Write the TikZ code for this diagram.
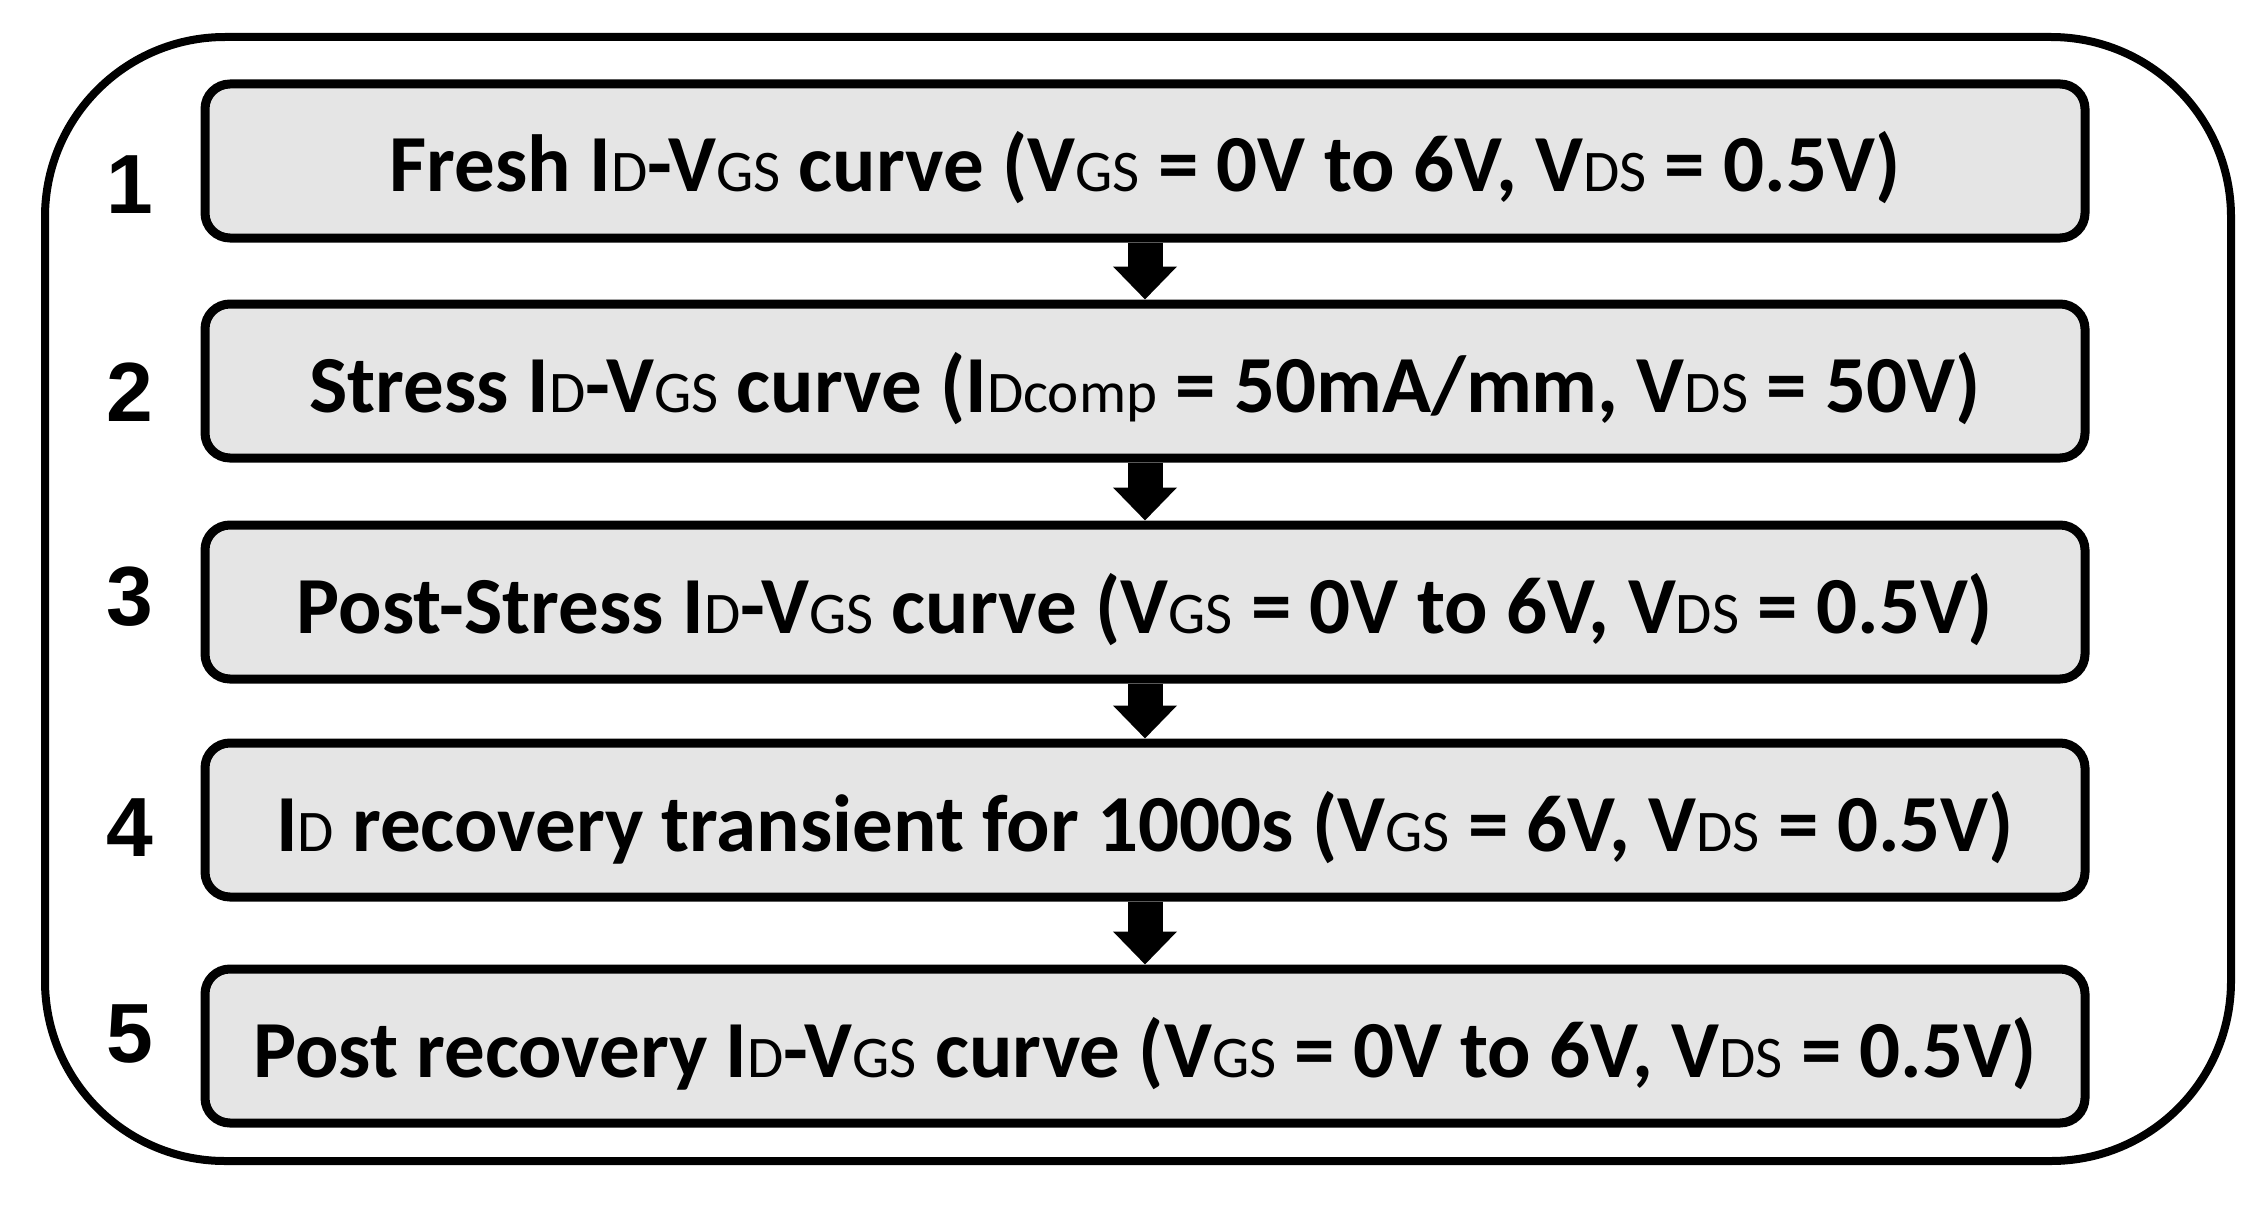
\documentclass[tikz,border=0pt]{standalone}
\usepackage{fontspec}
\setmainfont{Carlito}
\newfontfamily\numfont{Liberation Sans}
\usetikzlibrary{arrows.meta}
\definecolor{boxfill}{RGB}{229,229,229}
\newcommand\sbs[1]{{\fontsize{59}{61}\selectfont\mdseries #1}}
\tikzset{
  frame/.style={draw=black, line width=8pt, rounded corners=180pt, minimum width=2186pt, minimum height=1124pt, inner sep=0pt},
  stepbox/.style={draw=black, fill=boxfill, line width=9pt, rounded corners=25pt, minimum width=1880pt, minimum height=154pt, inner sep=0pt, text height=76pt, text depth=14pt, font=\fontsize{81}{97}\selectfont\bfseries},
  numlabel/.style={font=\fontsize{84}{90}\selectfont\numfont\bfseries, inner sep=0pt},
  flowarrow/.style={draw=black, line width=35pt, -{Triangle[width=62pt,length=33pt]}}
}
\begin{document}
\begin{tikzpicture}[x=1pt,y=-1pt]
\useasboundingbox (0,0) rectangle (2261,1209);
\fill[white] (0,0) rectangle (2261,1209);
\node[frame] (frame) at (1138,599) {};
\node[stepbox] (b1) at (1145,161) {Fresh I\sbs{D}-V\sbs{GS} curve (V\sbs{GS} = 0V to 6V, V\sbs{DS} = 0.5V)};
\node[stepbox] (b2) at (1145,381) {Stress I\sbs{D}-V\sbs{GS} curve (I\sbs{Dcomp} = 50mA/mm, V\sbs{DS} = 50V)};
\node[stepbox] (b3) at (1145,602) {Post-Stress I\sbs{D}-V\sbs{GS} curve (V\sbs{GS} = 0V to 6V, V\sbs{DS} = 0.5V)};
\node[stepbox] (b4) at (1145,820) {I\sbs{D} recovery transient for 1000s (V\sbs{GS} = 6V, V\sbs{DS} = 0.5V)};
\node[stepbox] (b5) at (1145,1046) {Post recovery I\sbs{D}-V\sbs{GS} curve (V\sbs{GS} = 0V to 6V, V\sbs{DS} = 0.5V)};
\node[numlabel] (n1) at (130,185) {1};
\node[numlabel] (n2) at (130,392) {2};
\node[numlabel] (n3) at (130,597) {3};
\node[numlabel] (n4) at (130,828) {4};
\node[numlabel] (n5) at (130,1034) {5};
\draw[flowarrow] (b1.south) -- (b2.north);
\draw[flowarrow] (b2.south) -- (b3.north);
\draw[flowarrow] (b3.south) -- (b4.north);
\draw[flowarrow] (b4.south) -- (b5.north);
\end{tikzpicture}
\end{document}
